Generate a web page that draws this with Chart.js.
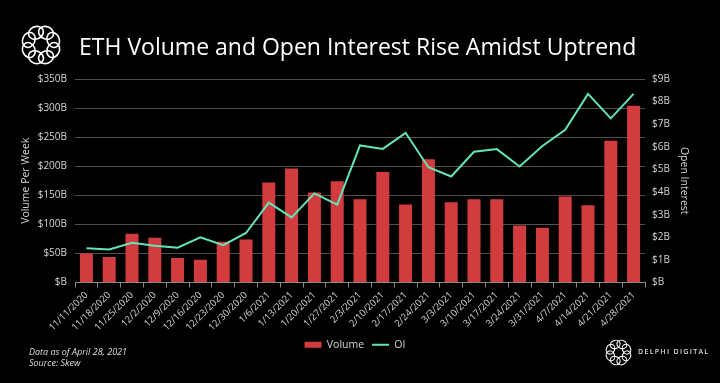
<!DOCTYPE html>
<html>
<head>
<meta charset="utf-8">
<script src="https://cdn.jsdelivr.net/npm/chart.js@4.4.0/dist/chart.umd.min.js"></script>
<style>
    html, body { margin: 0; padding: 0; background: #000; }
    #wrap { position: relative; width: 720px; height: 383px; background: #000; overflow: hidden; }
    #chart { position: absolute; left: 0; top: 0; }
    .txt { position: absolute; font-family: 'Open Sans', sans-serif; white-space: nowrap; }
    #title { left: 79px; top: 30px; font-size: 23px; color: #fff; }
    #note { left: 29px; top: 346px; font-size: 9px; line-height: 11px; font-style: italic; color: #ddd; }
    #brand { left: 638px; top: 347px; font-size: 7px; letter-spacing: 1.3px; font-weight: 600; color: #ddd; }
    svg { position: absolute; }
</style>
</head>
<body>
<div id="wrap">
    <canvas id="chart" width="720" height="383"></canvas>
    <svg id="logoTop" style="left:19px;top:23px" width="44" height="44"></svg>
    <svg id="logoBottom" style="left:604px;top:338px" width="29" height="29"></svg>
    <div class="txt" id="title">ETH Volume and Open Interest Rise Amidst Uptrend</div>
    <div class="txt" id="note">Data as of April 28, 2021<br>Source: Skew</div>
    <div class="txt" id="brand">DELPHI DIGITAL</div>
</div>
<script>
const weeks = ['11/11/2020', '11/18/2020', '11/25/2020', '12/2/2020', '12/9/2020', '12/16/2020',
    '12/23/2020', '12/30/2020', '1/6/2021', '1/13/2021', '1/20/2021', '1/27/2021', '2/3/2021',
    '2/10/2021', '2/17/2021', '2/24/2021', '3/3/2021', '3/10/2021', '3/17/2021', '3/24/2021',
    '3/31/2021', '4/7/2021', '4/14/2021', '4/21/2021', '4/28/2021'];

// weekly volume, $B
const volume = [50, 44, 84, 77, 42, 39, 70, 74, 172, 196, 155, 174, 143,
    190, 134, 212, 138, 143, 143, 98, 94, 148, 133, 244, 304];

// open interest, $B
const openInterest = [1.51, 1.46, 1.76, 1.63, 1.54, 2.0, 1.65, 2.19, 3.53, 2.88, 3.94, 3.44, 6.06,
    5.91, 6.62, 5.10, 4.69, 5.78, 5.90, 5.13, 6.04, 6.75, 8.34, 7.26, 8.34];

const volumeTicks = [0, 50, 100, 150, 200, 250, 300, 350];
const oiTicks = [0, 1, 2, 3, 4, 5, 6, 7, 8, 9];

const RED = '#d33c3f';
const TEAL = '#64e4b9';
const LABEL = '#d4d4d4';
const GRID = '#505050';

// ring logo made of eight interlocking circles
function drawLogo(id, size) {
    const svg = document.getElementById(id);
    const c = size / 2;
    const ringR = size * 0.3;
    const r = size * 0.14;
    let html = '';
    for (let i = 0; i < 8; i++) {
        const a = i * Math.PI / 4 + Math.PI / 8;
        const cx = c + ringR * Math.cos(a);
        const cy = c + ringR * Math.sin(a);
        html += `<ellipse cx="${cx}" cy="${cy}" rx="${r}" ry="${r * 1.25}" transform="rotate(${a * 180 / Math.PI} ${cx} ${cy})" fill="none" stroke="#fff" stroke-width="${size > 35 ? 1.6 : 1.1}"/>`;
    }
    svg.innerHTML = html;
}
drawLogo('logoTop', 44);
drawLogo('logoBottom', 29);

Chart.defaults.font.family = "'Open Sans', sans-serif";
Chart.defaults.color = LABEL;

new Chart(document.getElementById('chart').getContext('2d'), {
    type: 'bar',
    data: {
        labels: weeks,
        datasets: [
            {
                label: 'Volume',
                data: volume,
                backgroundColor: RED,
                borderWidth: 0,
                barPercentage: 0.57,
                categoryPercentage: 1,
                yAxisID: 'y',
                order: 2,
                pointStyle: 'rect'
            },
            {
                label: 'OI',
                type: 'line',
                data: openInterest,
                borderColor: TEAL,
                backgroundColor: TEAL,
                borderWidth: 2,
                pointRadius: 0,
                tension: 0,
                yAxisID: 'y1',
                order: 1,
                pointStyle: 'line'
            }
        ]
    },
    options: {
        responsive: false,
        animation: false,
        layout: { padding: { left: 20, right: 30, top: 79, bottom: 23 } },
        plugins: {
            tooltip: { enabled: false },
            legend: {
                position: 'bottom',
                labels: {
                    usePointStyle: true,
                    pointStyleWidth: 17,
                    boxWidth: 17,
                    boxHeight: 6,
                    padding: 8,
                    color: LABEL,
                    font: { size: 10.5 },
                    sort: (a, b) => a.datasetIndex - b.datasetIndex
                }
            }
        },
        scales: {
            x: {
                afterFit: s => { s.height = 49; },
                grid: { offset: true, drawOnChartArea: false, drawTicks: true, tickLength: 5, color: '#8a8a8a' },
                border: { color: '#8a8a8a' },
                ticks: { minRotation: 45, maxRotation: 45, autoSkip: false, color: LABEL, font: { size: 9.5 }, padding: 2 }
            },
            y: {
                position: 'left',
                min: volumeTicks[0],
                max: volumeTicks[volumeTicks.length - 1],
                afterFit: s => { s.width = 55; },
                afterBuildTicks: s => { s.ticks = volumeTicks.map(v => ({ value: v })); },
                grid: { color: GRID, drawTicks: false },
                border: { display: false },
                ticks: { padding: 8, color: LABEL, font: { size: 10 }, callback: v => '$' + (v === 0 ? '' : v) + 'B' },
                title: { display: true, text: 'Volume Per Week', color: LABEL, font: { size: 10.5 }, padding: 0 }
            },
            y1: {
                position: 'right',
                min: oiTicks[0],
                max: oiTicks[oiTicks.length - 1],
                afterFit: s => { s.width = 45; },
                afterBuildTicks: s => { s.ticks = oiTicks.map(v => ({ value: v })); },
                grid: { drawOnChartArea: false, drawTicks: false },
                border: { display: false },
                ticks: { padding: 7, color: LABEL, font: { size: 10 }, callback: v => '$' + (v === 0 ? '' : v) + 'B' },
                title: { display: true, text: 'Open Interest', color: LABEL, font: { size: 10.5 }, padding: 0 }
            }
        }
    }
});
</script>
</body>
</html>
